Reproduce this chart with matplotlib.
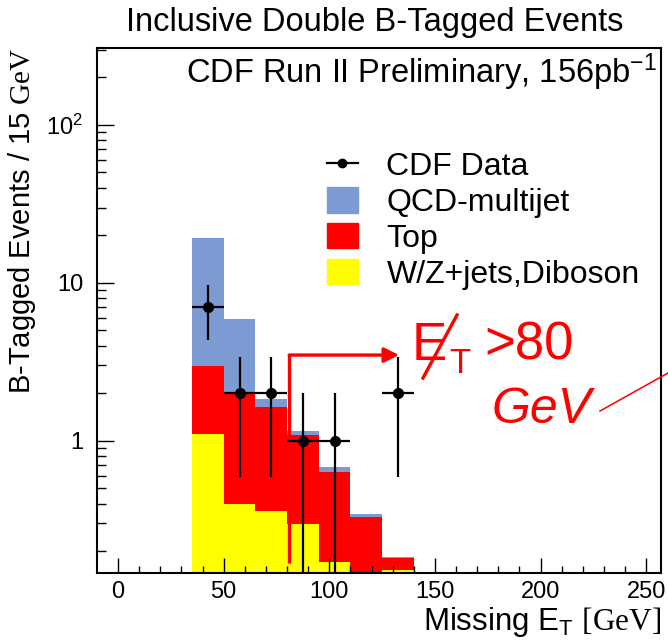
import numpy as np
import matplotlib
matplotlib.use("Agg")
import matplotlib.pyplot as plt
from matplotlib.lines import Line2D
from matplotlib.patches import Patch
from matplotlib.ticker import FixedLocator, FuncFormatter, LogLocator, NullFormatter

plt.rcParams['font.family'] = ['Liberation Sans', 'DejaVu Sans']
plt.rcParams['mathtext.fontset'] = 'custom'
plt.rcParams['mathtext.rm'] = 'Liberation Serif'
plt.rcParams['mathtext.sf'] = 'Liberation Sans'
plt.rcParams['mathtext.it'] = 'Liberation Sans:italic'

# stacked histogram heights (15 GeV bins)
bin_edges = [35, 50, 65, 80, 95, 110, 125, 140]
qcd_stack = [19.2, 5.9, 1.84, 1.15, 0.68, 0.343, 0.183]   # QCD + top + W/Z
top_stack = [2.98, 2.03, 1.63, 1.09, 0.634, 0.329, 0.180]  # top + W/Z
wz_stack = [1.11, 0.40, 0.357, 0.297, 0.170, 0.12, 0.152]  # W/Z+jets, diboson

# CDF data
data_x = [42.5, 57.5, 72.5, 87.5, 102.5, 132.5]
data_y = [7, 2, 2, 1, 1, 2]
data_xerr = 7.5

col_qcd = '#7b9bd2'
col_top = '#ff0000'
col_wz = '#ffff00'

fig = plt.figure(figsize=(6.68, 6.41), dpi=100)
ax = fig.add_axes([0.1452, 0.1061, 0.9895 - 0.1452, 0.9251 - 0.1061])

base = 1e-3
ax.stairs(qcd_stack, bin_edges, fill=True, baseline=base, color=col_qcd, lw=0)
ax.stairs(top_stack, bin_edges, fill=True, baseline=base, color=col_top, lw=0)
ax.stairs(wz_stack, bin_edges, fill=True, baseline=base, color=col_wz, lw=0)

yerr = np.sqrt(np.array(data_y, dtype=float))
ylo = np.minimum(yerr, np.array(data_y) - 1e-4)
ax.errorbar(data_x, data_y, xerr=data_xerr, yerr=[ylo, yerr], fmt='o', color='black',
            ms=7, lw=1.6, capsize=0, zorder=5)

ax.set_yscale('log')
ax.set_xlim(-10, 257)
ax.set_ylim(0.1455, 307)

ax.xaxis.set_major_locator(FixedLocator([0, 50, 100, 150, 200, 250]))
ax.xaxis.set_minor_locator(FixedLocator(np.arange(0, 260, 10)))
ax.yaxis.set_major_locator(LogLocator(base=10, numticks=10))
ax.yaxis.set_minor_locator(LogLocator(base=10, subs=np.arange(2, 10), numticks=20))
ax.yaxis.set_minor_formatter(NullFormatter())

def ylab(v, pos):
    if v == 1:
        return '1'
    if v == 10:
        return '10'
    if v == 100:
        return r'$\mathsf{10^{2}}$'
    return ''
ax.yaxis.set_major_formatter(FuncFormatter(ylab))

ax.tick_params(which='both', direction='in', top=False, right=False, width=1, labelsize=17)
ax.tick_params(axis='x', which='major', length=11, pad=6)
ax.tick_params(axis='x', which='minor', length=5)
ax.tick_params(axis='y', which='major', length=12, pad=10)
ax.tick_params(axis='y', which='minor', length=6.5)
for s in ax.spines.values():
    s.set_linewidth(1.5)

ax.set_xlabel(r'Missing E$_{\mathsf{T}}$ $\mathrm{[GeV]}$', fontsize=22.5, loc='right', labelpad=1)
ax.set_ylabel(r'B-Tagged Events / 15 $\mathrm{GeV}$', fontsize=21, loc='top', labelpad=6)
fig.text(375 / 668, 1 - 23 / 641, 'Inclusive Double B-Tagged Events', fontsize=23.5,
         ha='center', va='center')
ax.text(0.992, 0.953, r'CDF Run II Preliminary, 156pb$^{\mathsf{-1}}$', fontsize=23.5,
        ha='right', va='center', transform=ax.transAxes)

handles = [Line2D([], [], color='black', marker='o', ms=6, lw=1.6),
           Patch(color=col_qcd), Patch(color=col_top), Patch(color=col_wz)]
labels = ['CDF Data', 'QCD-multijet', 'Top', 'W/Z+jets,Diboson']
ax.legend(handles, labels, loc='upper left', bbox_to_anchor=(0.38, 0.834), frameon=False,
          fontsize=23, borderpad=0, handlelength=0.95, handleheight=0.85,
          handletextpad=0.9, labelspacing=0.16)

# hand-drawn cut marker
ax.annotate('', xy=(133, 3.49), xytext=(81, 3.49),
            arrowprops=dict(arrowstyle='-|>', color='red', lw=2.4,
                            mutation_scale=22, shrinkA=0, shrinkB=0))
ax.plot([81, 81], [0.168, 3.49], color='red', lw=2.4, solid_capstyle='butt')

def px(x, y):
    return x / 668, 1 - y / 641

fig.text(*px(412, 360), 'E', color='red', fontsize=38, va='baseline')
fig.text(*px(449, 373), 'T', color='red', fontsize=25, va='baseline')
fig.text(*px(484, 360), '>80', color='red', fontsize=38, va='baseline')
fig.text(*px(492, 423), 'GeV', color='red', fontsize=36, style='italic', va='baseline')
fig.add_artist(Line2D([423 / 668, 457 / 668], [1 - 378 / 641, 1 - 315 / 641],
                      color='red', lw=2.4, transform=fig.transFigure))
fig.add_artist(Line2D([600 / 668, 668 / 668], [1 - 411 / 641, 1 - 373 / 641],
                      color='red', lw=1.1, transform=fig.transFigure))

fig.savefig('out.png', dpi=100)
